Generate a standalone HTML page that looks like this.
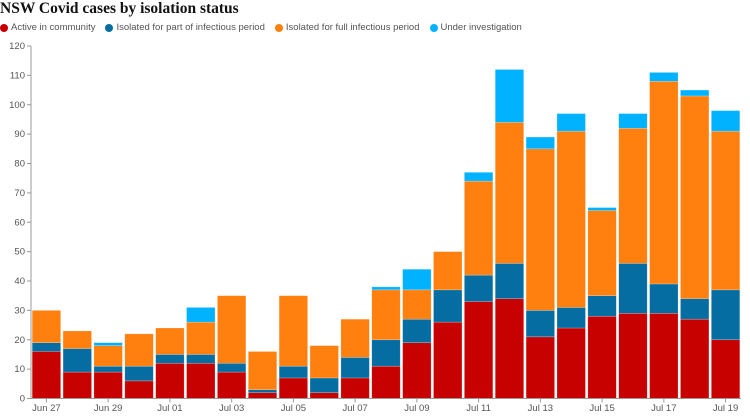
<!DOCTYPE html>
<html><head><meta charset="utf-8"><style>
body{margin:0;background:#fff;width:750px;height:416px;overflow:hidden;font-family:"Liberation Sans",sans-serif}
#title{position:absolute;left:0;top:0;font:bold 15.5px "Liberation Serif",serif;color:#121212}
#legend{position:absolute;left:0;top:22px;font-size:9.5px;color:#555;display:flex;gap:10px}
.li{display:flex;align-items:center;gap:3px}
.dot{width:8px;height:8px;border-radius:50%}
svg{position:absolute;left:0;top:0}
</style></head><body>
<div id="title">NSW Covid cases by isolation status</div>
<div id="legend">
<div class="li"><span class="dot" style="background:#c70000"></span>Active in community</div>
<div class="li"><span class="dot" style="background:#056da1"></span>Isolated for part of infectious period</div>
<div class="li"><span class="dot" style="background:#ff7f0f"></span>Isolated for full infectious period</div>
<div class="li"><span class="dot" style="background:#00b2ff"></span>Under investigation</div>
</div>
<svg id="chart" width="750" height="416"></svg>
<script>
const categories=["Jun 27","Jun 28","Jun 29","Jun 30","Jul 01","Jul 02","Jul 03","Jul 04","Jul 05","Jul 06","Jul 07","Jul 08","Jul 09","Jul 10","Jul 11","Jul 12","Jul 13","Jul 14","Jul 15","Jul 16","Jul 17","Jul 18","Jul 19"];
const active=[16,9,9,6,12,12,9,2,7,2,7,11,19,26,33,34,21,24,28,29,29,27,20];
const partial=[3,8,2,5,3,3,3,1,4,5,7,9,8,11,9,12,9,7,7,17,10,7,17];
const full=[11,6,7,11,9,11,23,13,24,11,13,17,10,13,32,48,55,60,29,46,69,69,54];
const investigation=[0,0,1,0,0,5,0,0,0,0,0,1,7,0,3,18,4,6,1,5,3,2,7];
const yTicks=[0,10,20,30,40,50,60,70,80,90,100,110,120];
const series=[["active",active,"#c70000"],["partial",partial,"#056da1"],["full",full,"#ff7f0f"],["investigation",investigation,"#00b2ff"]];
const NS="http://www.w3.org/2000/svg",svg=document.getElementById("chart");
const x0=31,x1=741,y0=398.5,yMax=120,yTop=46;
const band=(x1-x0)/categories.length;
const y=v=>y0-(v/yMax)*(y0-yTop);
const xs=i=>x0+i*band;
function mk(t,a){const e=document.createElementNS(NS,t);for(const k in a)e.setAttribute(k,a[k]);svg.appendChild(e);return e;}
yTicks.forEach(v=>{
 const l=mk("line",{x1:27,x2:x0,y1:y(v),y2:y(v),stroke:"#999"});
 
 
 const t=mk("text",{x:25,y:y(v)+3,"text-anchor":"end","font-size":9.5,fill:"#555","font-family":"Liberation Sans"});
 t.textContent=v;
 
 
});
categories.forEach((c,i)=>{
 let base=0;
 series.forEach(([n,arr,col])=>{
  const v=arr[i];if(v<=0)return;
  const r=mk("rect",{x:xs(i)+1.2,width:band-2.4,y:y(base+v),height:y(base)-y(base+v),fill:col,stroke:"#fff","stroke-opacity":0.35,"stroke-width":0.6});
  
  
  base+=v;
 });
 if(i%2===0){
  const cx=xs(i)+band/2;
  const tk=mk("line",{x1:cx,x2:cx,y1:y0,y2:y0+4,stroke:"#999"});
  
  
  const t=mk("text",{x:cx,y:411,"text-anchor":"middle","font-size":9.5,fill:"#555","font-family":"Liberation Sans"});
  t.textContent=c;
  
  
 }
});
const ya=mk("line",{x1:x0,x2:x0,y1:yTop,y2:y0,stroke:"#999"});


const xa=mk("line",{x1:x0,x2:x1,y1:y0,y2:y0,stroke:"#999"});


</script>
</body></html>
